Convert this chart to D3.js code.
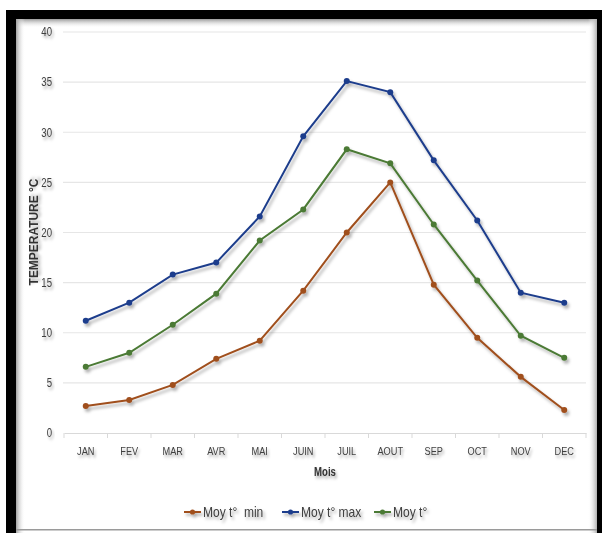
<!DOCTYPE html>
<html><head><meta charset="utf-8">
<script src="https://cdn.jsdelivr.net/npm/d3@7"></script>
<style>
html,body{margin:0;padding:0;background:#fff;}
svg{display:block;}
text{font-family:"Liberation Sans",Arial,sans-serif;}
</style></head>
<body>
<script>
const months = ["JAN","FEV","MAR","AVR","MAI","JUIN","JUIL","AOUT","SEP","OCT","NOV","DEC"];
const tMin  = [2.7, 3.3, 4.8, 7.4, 9.2, 14.2, 20.0, 25.0, 14.8, 9.5, 5.6, 2.3];
const tMax  = [11.2, 13.0, 15.8, 17.0, 21.6, 29.6, 35.1, 34.0, 27.2, 21.2, 14.0, 13.0];
const tMoy  = [6.6, 8.0, 10.8, 13.9, 19.2, 22.3, 28.3, 26.9, 20.8, 15.2, 9.7, 7.5];
const seriesNames = ["Moy t°  min", "Moy t° max", "Moy t°"];
const yTicks = [0,5,10,15,20,25,30,35,40];

const series = [
  {name: seriesNames[0], values: tMin, color: "#a04f1e"},
  {name: seriesNames[1], values: tMax, color: "#1f3e8c"},
  {name: seriesNames[2], values: tMoy, color: "#4b7a35"}
];

const W = 602, H = 533;
const SX = 0.8; // condensed look
const svg = d3.select("body").append("svg").attr("width", W).attr("height", H);
const defs = svg.append("defs");

const sh = defs.append("filter").attr("id","shadow").attr("x","-10%").attr("y","-10%").attr("width","130%").attr("height","140%");
sh.append("feDropShadow").attr("dx",2).attr("dy",3).attr("stdDeviation",1.6).attr("flood-color","#000").attr("flood-opacity",0.3);
const tsh = defs.append("filter").attr("id","tshadow").attr("x","-30%").attr("y","-40%").attr("width","170%").attr("height","200%");
tsh.append("feDropShadow").attr("dx",2).attr("dy",2.5).attr("stdDeviation",1.6).attr("flood-color","#000").attr("flood-opacity",0.35);

const gTop = defs.append("linearGradient").attr("id","gTop").attr("x1",0).attr("y1",0).attr("x2",0).attr("y2",1);
gTop.append("stop").attr("offset",0).attr("stop-color","#9a9a9a");
gTop.append("stop").attr("offset",1).attr("stop-color","#fff").attr("stop-opacity",0);
const gLeft = defs.append("linearGradient").attr("id","gLeft").attr("x1",0).attr("y1",0).attr("x2",1).attr("y2",0);
gLeft.append("stop").attr("offset",0).attr("stop-color","#a0a0a0");
gLeft.append("stop").attr("offset",1).attr("stop-color","#fff").attr("stop-opacity",0);
const gRight = defs.append("linearGradient").attr("id","gRight").attr("x1",1).attr("y1",0).attr("x2",0).attr("y2",0);
gRight.append("stop").attr("offset",0).attr("stop-color","#b0b0b0");
gRight.append("stop").attr("offset",1).attr("stop-color","#fff").attr("stop-opacity",0);

// frame
svg.append("rect").attr("x",6).attr("y",10).attr("width",W-6).attr("height",H-10).attr("fill","#000");
svg.append("rect").attr("x",16).attr("y",19).attr("width",581).attr("height",H-19).attr("fill","#fff");
svg.append("rect").attr("x",16).attr("y",19).attr("width",581).attr("height",9).attr("fill","url(#gTop)");
svg.append("rect").attr("x",16).attr("y",19).attr("width",9).attr("height",H-19).attr("fill","url(#gLeft)");
svg.append("rect").attr("x",588).attr("y",19).attr("width",9).attr("height",H-19).attr("fill","url(#gRight)");
svg.append("rect").attr("x",16).attr("y",529).attr("width",581).attr("height",1.5).attr("fill","#9a9a9a");

const x = d3.scaleBand().domain(months).range([64, 586]);
const y = d3.scaleLinear().domain([0, 40]).range([433, 32]);

// gridlines
svg.append("g").selectAll("line").data(yTicks.filter(d => d > 0)).join("line")
  .attr("x1", 63).attr("x2", 586)
  .attr("y1", d => y(d)).attr("y2", d => y(d))
  .attr("stroke", "#e6e6e6").attr("stroke-width", 1.2);

// y axis labels
const yAxis = d3.axisLeft(y).tickValues(yTicks).tickSize(0).tickPadding(0);
const ya = svg.append("g").attr("transform", "translate(52,0)").call(yAxis);
ya.select(".domain").remove();
ya.selectAll("text").attr("font-size", 12).attr("fill", "#404040")
  .attr("transform", `scale(${SX},1)`).attr("filter","url(#tshadow)");

// x axis
const xAxis = d3.axisBottom(x).tickSize(0).tickPadding(14);
const xa = svg.append("g").attr("transform", "translate(0,433)").call(xAxis);
xa.select(".domain").attr("stroke", "#d9d9d9").attr("stroke-width", 1.2);
xa.selectAll("text").attr("font-size", 11.5).attr("fill", "#404040")
  .attr("transform", `scale(${SX},1)`).attr("filter","url(#tshadow)");
xa.selectAll(".bnd").data(d3.range(months.length + 1)).join("line").attr("class","bnd")
  .attr("x1", i => 64 + i * x.step()).attr("x2", i => 64 + i * x.step())
  .attr("y1", 0).attr("y2", 5).attr("stroke", "#d9d9d9");

// axis titles
svg.append("g").attr("transform","translate(325,476)").append("text")
  .attr("transform", `scale(${SX},1)`).attr("text-anchor","middle")
  .attr("font-size", 12).attr("font-weight","bold").attr("fill","#333").attr("filter","url(#tshadow)").text("Mois");
svg.append("g").attr("transform","translate(38,232) rotate(-90)").append("text")
  .attr("transform", "scale(0.92,1)").attr("text-anchor","middle")
  .attr("font-size", 13).attr("font-weight","bold").attr("fill","#333").attr("filter","url(#tshadow)").text("TEMPERATURE °C");

// lines
const line = d3.line().x((d,i) => x(months[i]) + x.bandwidth()/2).y(d => y(d));
const sg = svg.append("g").attr("filter","url(#shadow)");
series.forEach(s => {
  const g = sg.append("g");
  g.append("path").datum(s.values).attr("d", line).attr("fill","none")
    .attr("stroke", s.color).attr("stroke-width", 2);
  g.selectAll("circle").data(s.values).join("circle")
    .attr("cx", (d,i) => x(months[i]) + x.bandwidth()/2).attr("cy", d => y(d))
    .attr("r", 3).attr("fill", s.color);
});

// legend
const legX = [184, 282, 374];
const leg = svg.append("g").attr("filter","url(#tshadow)");
series.forEach((s, i) => {
  const g = leg.append("g").attr("transform", `translate(${legX[i]},512)`);
  g.append("line").attr("x1",0).attr("x2",17).attr("y1",0).attr("y2",0).attr("stroke",s.color).attr("stroke-width",2);
  g.append("circle").attr("cx",8.5).attr("cy",0).attr("r",2.6).attr("fill",s.color);
  g.append("g").attr("transform","translate(19,5)").append("text")
    .attr("transform", "scale(0.86,1)")
    .attr("font-size",14).attr("fill","#404040").style("white-space","pre").text(s.name);
});
</script>
</body></html>
